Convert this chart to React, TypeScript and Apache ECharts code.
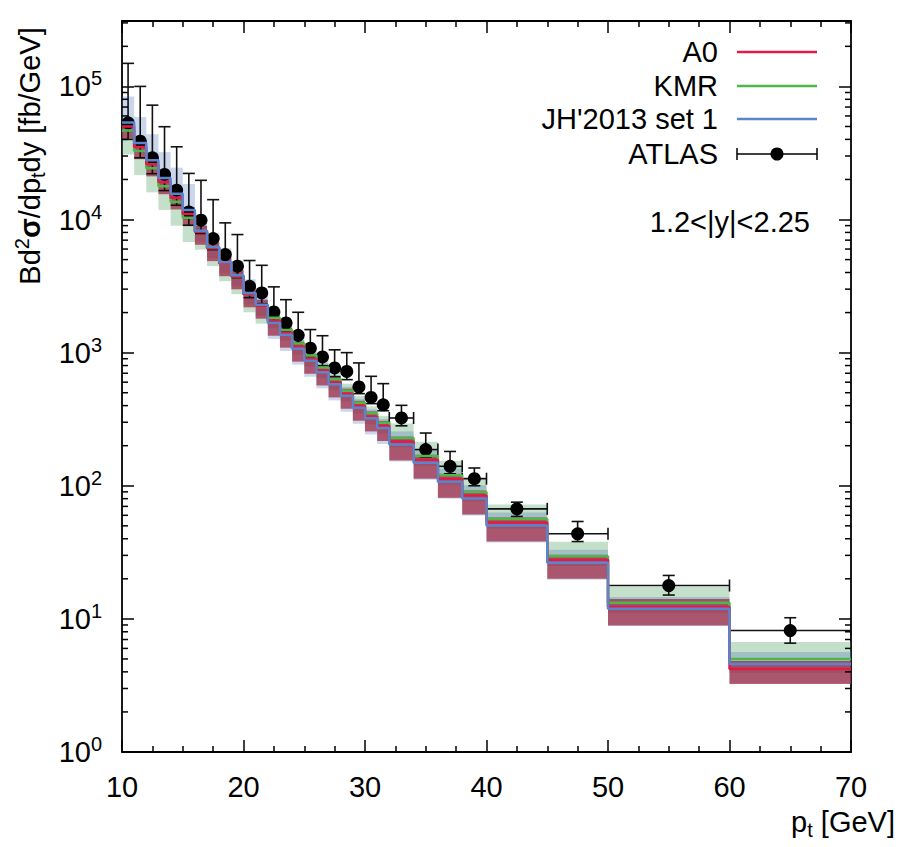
import React, { useEffect, useRef } from 'react';
import * as echarts from 'echarts';

const FONT = "'Liberation Sans', Arial, sans-serif";

// Bin edges (GeV)
const binLo = [10, 11, 12, 13, 14, 15, 16, 17, 18, 19, 20, 21, 22, 23, 24, 25, 26, 27, 28, 29, 30, 31, 32, 34, 36, 38, 40, 45, 50, 60];
const binHi = [11, 12, 13, 14, 15, 16, 17, 18, 19, 20, 21, 22, 23, 24, 25, 26, 27, 28, 29, 30, 31, 32, 34, 36, 38, 40, 45, 50, 60, 70];

// ATLAS data
const atlasX = [10.5, 11.5, 12.5, 13.5, 14.5, 15.5, 16.5, 17.5, 18.5, 19.5, 20.5, 21.5, 22.5, 23.5, 24.5, 25.5, 26.5, 27.5, 28.5, 29.5, 30.5, 31.5, 33, 35, 37, 39, 42.5, 47.5, 55, 65];
const atlasY = [53300, 38800, 29100, 21800, 16600, 11400, 9890, 7200, 5460, 4460, 3150, 2810, 2020, 1670, 1350, 1080, 929, 767, 723, 552, 461, 406, 323, 187, 140, 113, 67.1, 43.6, 17.8, 8.17];
const atlasHi = [149000, 100000, 72300, 49800, 35200, 22200, 19700, 14100, 9440, 7710, 4920, 4530, 3120, 2500, 2010, 1490, 1340, 1050, 1000, 837, 664, 585, 402, 249, 181, 136, 75.3, 53.9, 21.2, 10.2];
const atlasLo = [40000, 29100, 22100, 16500, 12800, 9060, 7850, 5940, 4720, 3660, 2590, 2330, 1710, 1440, 1170, 933, 798, 660, 627, 492, 414, 366, 282, 164, 123, 100, 58.8, 38.1, 15.1, 6.57];

// A0
const a0 = [50000, 35000, 26000, 19100, 14600, 11000, 8100, 6100, 4700, 3750, 2750, 2250, 1740, 1410, 1110, 900, 736, 598, 492, 399, 332, 282, 215, 157, 113, 84.6, 53, 27.8, 12.3, 4.2];
const a0Hi = [56400, 39500, 29300, 21600, 16500, 12400, 8990, 6770, 5210, 4160, 3050, 2500, 1900, 1540, 1210, 981, 803, 652, 536, 435, 362, 307, 234, 171, 123, 92.2, 57.8, 30.3, 14.1, 4.82];
const a0Lo = [40600, 28400, 21100, 15500, 11900, 8930, 6460, 4870, 3750, 2990, 2190, 1800, 1340, 1090, 856, 694, 567, 461, 379, 308, 256, 217, 155, 113, 81.2, 60.8, 38.1, 20.0, 8.93, 3.24];

// KMR
const kmr = [46700, 32700, 24300, 17800, 13600, 10300, 8100, 6100, 4700, 3750, 2750, 2250, 1830, 1480, 1170, 950, 775, 630, 518, 420, 350, 297, 228, 167, 120, 89.9, 56.3, 29.5, 13.2, 5.0];
const kmrHi = [51800, 36200, 26900, 19800, 15100, 11400, 8990, 6770, 5210, 4160, 3050, 2500, 2070, 1680, 1320, 1070, 875, 711, 585, 474, 395, 335, 294, 214, 154, 116, 72.4, 38.0, 17.4, 6.70];
const kmrLo = [30800, 21600, 16000, 11800, 8990, 6780, 5930, 4470, 3440, 2750, 2010, 1650, 1520, 1230, 967, 784, 641, 521, 429, 348, 289, 246, 194, 141, 102, 76.2, 47.8, 25.0, 11.1, 3.92];

// JH'2013 set 1
const jh = [53600, 37500, 27900, 20500, 15600, 11800, 8240, 6210, 4780, 3820, 2800, 2290, 1680, 1360, 1070, 869, 711, 578, 475, 385, 321, 272, 204, 149, 107, 80.3, 50.3, 26.4, 11.9, 4.58];
const jhHi = [84000, 58800, 43700, 32100, 24500, 18500, 10500, 7910, 6090, 4860, 3560, 2920, 1960, 1590, 1250, 1020, 831, 675, 555, 450, 375, 318, 256, 187, 134, 101, 63.0, 33.1, 14.6, 5.64];
const jhLo = [45000, 31500, 23400, 17200, 13200, 9910, 6810, 5130, 3950, 3150, 2310, 1890, 1270, 1030, 813, 659, 539, 438, 360, 292, 243, 206, 152, 111, 79.9, 59.8, 37.5, 19.7, 8.84, 3.30];

const yMin = 1;
const yMax = 3.1e5;
const yMinorTicks: number[] = [];
for (let e = 0; e <= 5; e++) {
  for (let m = 2; m <= 9; m++) {
    const v = m * Math.pow(10, e);
    if (v < yMax) yMinorTicks.push(v);
  }
}

const RED = '#e31a47';
const GREEN = '#4db848';
const BLUE = '#5b84cc';

function stepData(vals: number[]) {
  const d: number[][] = binLo.map((x, i) => [x, vals[i]]);
  d.push([binHi[binHi.length - 1], vals[vals.length - 1]]);
  return d;
}

function bandSeries(lo: number[], hi: number[], fill: string) {
  return {
    type: 'custom',
    coordinateSystem: 'cartesian2d',
    encode: { x: [0, 1], y: [2, 3] },
    data: binLo.map((x, i) => [x, binHi[i], lo[i], hi[i]]),
    clip: true,
    silent: true,
    renderItem: (params: any, api: any) => {
      const p1 = api.coord([api.value(0), api.value(3)]);
      const p2 = api.coord([api.value(1), api.value(2)]);
      return {
        type: 'rect',
        shape: { x: p1[0], y: p1[1], width: p2[0] - p1[0], height: p2[1] - p1[1] },
        style: { fill },
      };
    },
  };
}

function stepSeries(vals: number[], color: string) {
  return {
    type: 'line',
    step: 'end',
    data: stepData(vals),
    showSymbol: false,
    symbol: 'none',
    silent: true,
    lineStyle: { color, width: 2.5 },
  };
}

const sup = { fontSize: 20, lineHeight: 24, verticalAlign: 'top', fontFamily: FONT, color: '#000' };
const sub = { fontSize: 20, lineHeight: 12, verticalAlign: 'bottom', fontFamily: FONT, color: '#000' };
const base = { fontSize: 29, lineHeight: 36, fontFamily: FONT, color: '#000' };

export default function App() {
  const ref = useRef<HTMLDivElement>(null);
  useEffect(() => {
    if (!ref.current) return;
    const chart = echarts.init(ref.current, undefined, { renderer: 'svg' });
    const axisLine = { show: true, onZero: false, lineStyle: { color: '#000', width: 1.8 } };
    const axisTick = { show: true, inside: true, length: 12, lineStyle: { color: '#000', width: 1.5 } };
    const minorTick = { show: true, splitNumber: 4, length: 6, lineStyle: { color: '#000', width: 1.5 } };
    const option: any = {
      animation: false,
      textStyle: { fontFamily: FONT, color: '#000' },
      grid: { left: 122, right: 56, top: 21, bottom: 95 },
      xAxis: [
        {
          type: 'value', min: 10, max: 70, interval: 10, position: 'bottom',
          axisLine, axisTick, minorTick,
          splitLine: { show: false },
          axisLabel: { fontSize: 29, color: '#000', margin: 20, fontFamily: FONT },
        },
        {
          type: 'value', min: 10, max: 70, interval: 10, position: 'top',
          axisLine, axisTick, minorTick,
          splitLine: { show: false },
          axisLabel: { show: false },
        },
      ],
      yAxis: [
        {
          type: 'log', logBase: 10, min: yMin, max: yMax, position: 'left',
          axisLine, axisTick,
          splitLine: { show: false },
          axisLabel: {
            margin: 20,
            formatter: (v: number) => {
              const l = Math.log10(v);
              const e = Math.round(l);
              if (Math.abs(l - e) > 1e-6) return '';
              return `{b|10}{s|${e}}`;
            },
            rich: { b: base, s: sup },
          },
        },
        {
          type: 'log', logBase: 10, min: yMin, max: yMax, position: 'right',
          axisLine, axisTick,
          splitLine: { show: false },
          axisLabel: { show: false },
        },
      ],
      series: [
        bandSeries(kmrLo, kmrHi, 'rgba(70,160,90,0.32)'),
        bandSeries(jhLo, jhHi, 'rgba(80,120,190,0.30)'),
        bandSeries(a0Lo, a0Hi, 'rgba(160,43,69,0.75)'),
        stepSeries(kmr, GREEN),
        stepSeries(a0, RED),
        stepSeries(jh, BLUE),
        {
          type: 'custom',
          coordinateSystem: 'cartesian2d',
          encode: { x: [0, 4, 5], y: [1, 2, 3] },
          silent: true,
          data: atlasX.map((x, i) => [x, atlasY[i], atlasLo[i], atlasHi[i], binLo[i], binHi[i]]),
          renderItem: (params: any, api: any) => {
            const x = api.value(0), y = api.value(1);
            const pc = api.coord([x, y]);
            const pl = api.coord([x, api.value(2)]);
            const ph = api.coord([x, api.value(3)]);
            const pxl = api.coord([api.value(4), y]);
            const pxh = api.coord([api.value(5), y]);
            const c = 6;
            const st = { stroke: '#111', lineWidth: 1.6 };
            const ln = (x1: number, y1: number, x2: number, y2: number) => ({ type: 'line', shape: { x1, y1, x2, y2 }, style: st });
            const children: any[] = [
              ln(pl[0], pl[1], ph[0], ph[1]),
              ln(ph[0] - c, ph[1], ph[0] + c, ph[1]),
              ln(pl[0] - c, pl[1], pl[0] + c, pl[1]),
              ln(pxl[0], pc[1], pxh[0], pc[1]),
            ];
            if (pxh[0] - pxl[0] > 16) {
              children.push(ln(pxl[0], pc[1] - c, pxl[0], pc[1] + c));
              children.push(ln(pxh[0], pc[1] - c, pxh[0], pc[1] + c));
            }
            return { type: 'group', children };
          },
        },
        {
          type: 'scatter',
          data: atlasX.map((x, i) => [x, atlasY[i]]),
          symbol: 'circle',
          symbolSize: 13,
          itemStyle: { color: '#000', opacity: 1 },
          silent: true,
        },
        {
          type: 'custom',
          coordinateSystem: 'cartesian2d',
          encode: { x: 0, y: 1 },
          silent: true,
          data: yMinorTicks.map((v) => [10, v]),
          renderItem: (params: any, api: any) => {
            const v = api.value(1);
            const p = api.coord([10, v]);
            const q = api.coord([70, v]);
            const st = { stroke: '#000', lineWidth: 1.5 };
            return {
              type: 'group',
              children: [
                { type: 'line', shape: { x1: p[0], y1: p[1], x2: p[0] + 6, y2: p[1] }, style: st },
                { type: 'line', shape: { x1: q[0] - 6, y1: q[1], x2: q[0], y2: q[1] }, style: st },
              ],
            };
          },
        },
      ],
      graphic: [
        // legend
        { type: 'text', x: 718, y: 52, silent: true, style: { text: 'A0', fontSize: 29, fontFamily: FONT, fill: '#000', align: 'right', verticalAlign: 'middle' } },
        { type: 'line', silent: true, shape: { x1: 737, y1: 52, x2: 817, y2: 52 }, style: { stroke: RED, lineWidth: 2.5 } },
        { type: 'text', x: 718, y: 86, silent: true, style: { text: 'KMR', fontSize: 29, fontFamily: FONT, fill: '#000', align: 'right', verticalAlign: 'middle' } },
        { type: 'line', silent: true, shape: { x1: 737, y1: 86, x2: 817, y2: 86 }, style: { stroke: GREEN, lineWidth: 2.5 } },
        { type: 'text', x: 718, y: 119, silent: true, style: { text: "JH'2013 set 1", fontSize: 29, fontFamily: FONT, fill: '#000', align: 'right', verticalAlign: 'middle' } },
        { type: 'line', silent: true, shape: { x1: 737, y1: 119, x2: 817, y2: 119 }, style: { stroke: BLUE, lineWidth: 2.5 } },
        { type: 'text', x: 718, y: 154, silent: true, style: { text: 'ATLAS', fontSize: 29, fontFamily: FONT, fill: '#000', align: 'right', verticalAlign: 'middle' } },
        { type: 'line', silent: true, shape: { x1: 737, y1: 154, x2: 817, y2: 154 }, style: { stroke: '#000', lineWidth: 1.5 } },
        { type: 'line', silent: true, shape: { x1: 737, y1: 148, x2: 737, y2: 160 }, style: { stroke: '#000', lineWidth: 1.5 } },
        { type: 'line', silent: true, shape: { x1: 817, y1: 148, x2: 817, y2: 160 }, style: { stroke: '#000', lineWidth: 1.5 } },
        { type: 'circle', silent: true, shape: { cx: 777, cy: 154, r: 6.5 }, style: { fill: '#000' } },
        // rapidity range
        { type: 'text', x: 810, y: 222, silent: true, style: { text: '1.2<|y|<2.25', fontSize: 29, fontFamily: FONT, fill: '#000', align: 'right', verticalAlign: 'middle' } },
        // y axis title
        {
          type: 'text', x: 30, y: 156, rotation: Math.PI / 2, silent: true,
          style: {
            text: '{n|Bd}{s|2}{g|σ}{n|/dp}{t|t}{n|dy [fb/GeV]}',
            align: 'center', verticalAlign: 'middle',
            rich: { n: base, s: sup, t: sub, g: { ...base, fontWeight: 'bold' } },
          },
        },
        // x axis title
        {
          type: 'text', x: 895, y: 822, silent: true,
          style: {
            text: '{n|p}{t|t}{n| [GeV]}',
            align: 'right', verticalAlign: 'middle',
            rich: { n: base, t: sub },
          },
        },
      ],
    };
    chart.setOption(option);
    return () => chart.dispose();
  }, []);
  return (
    <div
      ref={ref}
      style={{ position: 'fixed', left: 0, top: 0, width: 907, height: 847, background: '#fff' }}
    />
  );
}
